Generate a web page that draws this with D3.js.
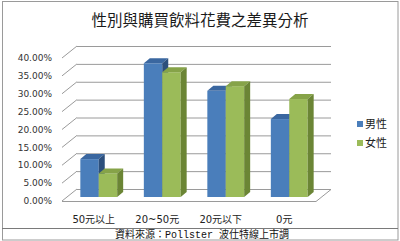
<!DOCTYPE html>
<html>
<head>
<meta charset="utf-8">
<script src="https://cdn.jsdelivr.net/npm/d3@7"></script>
<style>
  body { margin: 0; background: #fff; }
  svg { display: block; }
</style>
</head>
<body>
<svg id="chart" width="400" height="241"></svg>
<script>
const categories = ['50元以上', '20~50元', '20元以下', '0元'];
const series = ['男性', '女性'];
const maleValues = [0.106, 0.374, 0.297, 0.218];
const femaleValues = [0.066, 0.349, 0.310, 0.274];
const yTicks = [0, 0.05, 0.1, 0.15, 0.2, 0.25, 0.3, 0.35, 0.4];

const colors = {
  '男性': { front: '#4a7ebb', top: '#3a67a0', side: '#2c4f7c' },
  '女性': { front: '#9bbb59', top: '#86a348', side: '#6b8535' }
};

const svg = d3.select('#chart');
const cjk = '"DejaVu Sans", "Noto Sans CJK TC", sans-serif';

// 3d offsets
const backDx = 15, backDy = -12;
const baseDx = 5, baseDy = -4;
const barDx = 6, barDy = -5;

const x0 = d3.scaleBand().domain(categories).range([62, 316]);
const pairW = x0.bandwidth() * 0.58;
const x1 = d3.scaleBand().domain(series)
  .range([(x0.bandwidth() - pairW) / 2, (x0.bandwidth() + pairW) / 2]);
const y = d3.scaleLinear().domain([0, 0.4]).range([201, 58]);

// frame
svg.append('rect').attr('x', 2.5).attr('y', 1.5).attr('width', 395.5).attr('height', 238.5)
  .attr('fill', 'none').attr('stroke', '#9a9a9a');
svg.append('line').attr('x1', 2).attr('x2', 398).attr('y1', 228.5).attr('y2', 228.5)
  .attr('stroke', '#7a7a7a');

// title
svg.append('text').attr('x', 200).attr('y', 26).attr('text-anchor', 'middle')
  .style('font-family', '"Noto Sans CJK TC", sans-serif').style('font-size', '15.5px')
  .style('fill', '#1a1a1a').text('性別與購買飲料花費之差異分析');

// back wall + side wall gridlines
const xLeft = x0.range()[0], xRight = x0.range()[1];
const grid = svg.append('g').attr('stroke', '#9a9a9a').attr('stroke-width', 1).attr('fill', 'none');
yTicks.forEach(function (t) {
  const yy = y(t);
  grid.append('line').attr('x1', xLeft + backDx).attr('x2', xRight + backDx)
    .attr('y1', yy + backDy + 0.5).attr('y2', yy + backDy + 0.5);
  grid.append('line').attr('x1', xLeft).attr('y1', yy)
    .attr('x2', xLeft + backDx).attr('y2', yy + backDy);
});
// floor
grid.append('path').attr('d',
  'M' + xLeft + ',' + (y(0) + 0.5) + 'L' + xRight + ',' + (y(0) + 0.5) +
  'L' + (xRight + backDx) + ',' + (y(0) + backDy + 0.5));

// y labels
svg.append('g').selectAll('text').data(yTicks).enter().append('text')
  .attr('x', 52).attr('y', d => y(d)).attr('dy', '0.35em').attr('text-anchor', 'end')
  .style('font-family', '"DejaVu Sans", sans-serif').style('font-size', '9px')
  .style('fill', '#333').text(d => d3.format('.2%')(d));

// bars
const rows = categories.map(function (c, i) {
  return { cat: c, vals: [{ s: '男性', v: maleValues[i] }, { s: '女性', v: femaleValues[i] }] };
});
const groups = svg.append('g').selectAll('g').data(rows).enter().append('g')
  .attr('transform', d => 'translate(' + (x0(d.cat) + baseDx) + ',' + baseDy + ')');

const bars = groups.selectAll('g').data(d => d.vals).enter().append('g');
bars.append('rect')
  .attr('x', d => x1(d.s)).attr('y', d => y(d.v))
  .attr('width', x1.bandwidth()).attr('height', d => y(0) - y(d.v))
  .attr('fill', d => colors[d.s].front);
bars.append('path').attr('fill', d => colors[d.s].top).attr('d', function (d) {
  const a = x1(d.s), b = a + x1.bandwidth(), t = y(d.v);
  return 'M' + a + ',' + t + 'L' + b + ',' + t + 'L' + (b + barDx) + ',' + (t + barDy) +
    'L' + (a + barDx) + ',' + (t + barDy) + 'Z';
});
bars.append('path').attr('fill', d => colors[d.s].side).attr('d', function (d) {
  const b = x1(d.s) + x1.bandwidth(), t = y(d.v), bt = y(0);
  return 'M' + b + ',' + t + 'L' + (b + barDx) + ',' + (t + barDy) +
    'L' + (b + barDx) + ',' + (bt + barDy) + 'L' + b + ',' + bt + 'Z';
});

// category labels
svg.append('g').selectAll('text').data(categories).enter().append('text')
  .attr('x', d => x0(d) + x0.bandwidth() / 2).attr('y', 223).attr('text-anchor', 'middle')
  .style('font-family', cjk).style('font-size', '10px').style('fill', '#222').text(d => d);

// legend
const legend = svg.append('g').selectAll('g').data(series).enter().append('g')
  .attr('transform', (d, i) => 'translate(357,' + (124 + i * 19) + ')');
legend.append('rect').attr('x', 0).attr('y', -3).attr('width', 6).attr('height', 6)
  .attr('fill', d => colors[d].front);
legend.append('text').attr('x', 8).attr('dy', '0.38em')
  .style('font-family', '"Noto Sans CJK TC", sans-serif').style('font-size', '11px')
  .style('fill', '#222').text(d => d);

// source
svg.append('text').attr('x', 202).attr('y', 238).attr('text-anchor', 'middle')
  .style('font-family', '"Liberation Mono", "Noto Sans CJK TC", monospace').style('font-size', '10px')
  .style('fill', '#111').text('資料來源：Pollster 波仕特線上市調');
</script>
</body>
</html>
